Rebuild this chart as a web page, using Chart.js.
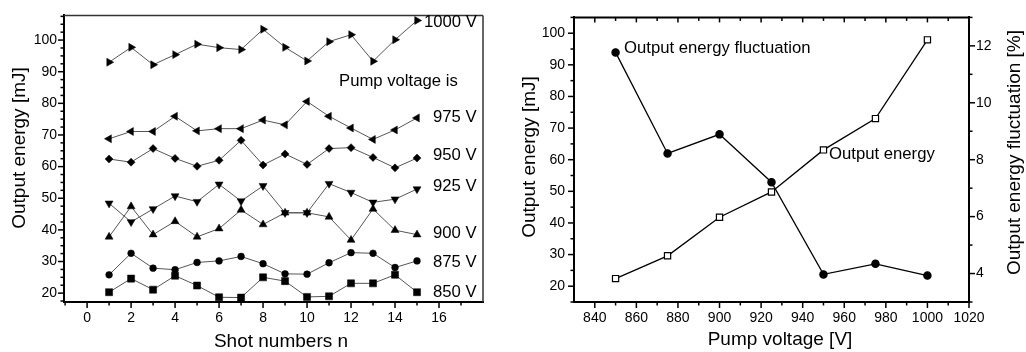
<!DOCTYPE html>
<html>
<head>
<meta charset="utf-8">
<script src="https://cdn.jsdelivr.net/npm/chart.js@4/dist/chart.umd.min.js"></script>
<style>
  body { margin: 0; background: #fff; }
  #izq { position: absolute; left: 0; top: 0; }
  #der { position: absolute; left: 500px; top: 0; }
</style>
</head>
<body>
<canvas id="izq" width="500" height="352"></canvas>
<canvas id="der" width="526" height="352"></canvas>
<script>
// datos del panel izquierdo: energia por disparo
const disparos = [1, 2, 3, 4, 5, 6, 7, 8, 9, 10, 11, 12, 13, 14, 15];
const v1000 = [93.0, 97.7, 92.2, 95.4, 98.7, 97.6, 97.0, 103.4, 97.7, 93.4, 99.5, 101.7, 93.3, 100.1, 106.2];
const v975 = [68.8, 71.1, 71.1, 75.9, 71.3, 72.0, 72.0, 74.7, 73.2, 80.6, 75.9, 72.2, 68.6, 71.6, 75.4];
const v950 = [62.4, 61.4, 65.7, 62.6, 60.1, 62.0, 68.3, 60.5, 64.0, 60.7, 65.7, 66.0, 62.9, 59.6, 62.7];
const v925 = [48.4, 42.5, 46.6, 50.7, 48.9, 54.4, 49.1, 53.9, 45.4, 45.4, 54.6, 51.8, 48.7, 49.7, 52.9];
const v900 = [37.8, 47.4, 38.5, 42.7, 37.8, 40.4, 46.3, 41.7, 45.4, 45.4, 44.1, 36.8, 46.6, 39.9, 38.5];
const v875 = [25.8, 32.6, 27.9, 27.4, 29.7, 30.2, 31.6, 29.3, 26.1, 26.0, 29.6, 32.8, 32.6, 28.1, 30.2];
const v850 = [20.3, 24.6, 21.1, 25.5, 22.4, 18.7, 18.6, 25.0, 23.8, 18.8, 19.0, 23.1, 23.1, 25.8, 20.3];
const etiquetasVoltaje = ['1000 V', '975 V', '950 V', '925 V', '900 V', '875 V', '850 V'];

// datos del panel derecho
const voltajes = [850, 875, 900, 925, 950, 975, 1000];
const energiaSalida = [22.4, 29.6, 41.8, 49.8, 63.1, 73.0, 97.9];
const fluctuacion = [11.77, 8.22, 8.89, 7.21, 3.97, 4.34, 3.93];

const ticksX1 = [0, 2, 4, 6, 8, 10, 12, 14, 16];
const ticksY1 = [20, 30, 40, 50, 60, 70, 80, 90, 100];
const ticksX2 = [840, 860, 880, 900, 920, 940, 960, 980, 1000, 1020];
const ticksY2 = [20, 30, 40, 50, 60, 70, 80, 90, 100];
const ticksY3 = [4, 6, 8, 10, 12];

const FUENTE = '"Liberation Sans", Arial, sans-serif';

function rango(a, b, paso) {
  var r = [];
  for (let v = a; v <= b + 1e-9; v += paso) r.push(Math.round(v * 1000) / 1000);
  return r;
}

function serie(xs, ys) {
  return xs.map((x, i) => ({x: x, y: ys[i]}));
}

function fijarTicks(lista) {
  return (s) => { s.ticks = lista.map(v => ({value: v})); };
}

function marcasTexto(pad) {
  return {color: '#000', font: {family: FUENTE, size: 14}, padding: pad,
    callback: (v) => String(v)};
}

function ejeBase(extra) {
  return Object.assign({
    type: 'linear',
    grid: {display: false, drawTicks: false},
    border: {display: true, color: '#000', width: 2},
    ticks: marcasTexto(8)
  }, extra);
}

// marcas mayores y menores dibujadas a mano
const marcas = {
  id: 'marcas',
  afterDraw(chart, args, opts) {
    const ctx = chart.ctx, a = chart.chartArea;
    ctx.save();
    ctx.strokeStyle = '#000';
    ctx.lineWidth = 1.5;
    opts.lista.forEach(m => {
      const s = chart.scales[m.eje];
      m.valores.forEach(v => {
        const p = s.getPixelForValue(v);
        const l = m.largo;
        ctx.beginPath();
        if (m.lado === 'bottom') { ctx.moveTo(p, a.bottom); ctx.lineTo(p, a.bottom + l); }
        if (m.lado === 'top') { ctx.moveTo(p, a.top); ctx.lineTo(p, a.top + l); }
        if (m.lado === 'left') { ctx.moveTo(a.left, p); ctx.lineTo(a.left - l, p); }
        if (m.lado === 'right') { ctx.moveTo(a.right, p); ctx.lineTo(a.right + l, p); }
        ctx.stroke();
      });
    });
    // lineas de cierre
    opts.cierre.forEach(c => {
      ctx.lineWidth = c.ancho;
      ctx.strokeStyle = c.color;
      ctx.beginPath();
      if (c.lado === 'top') { ctx.moveTo(a.left, a.top); ctx.lineTo(a.right, a.top); }
      if (c.lado === 'right') { ctx.moveTo(a.right, a.top); ctx.lineTo(a.right, a.bottom); }
      ctx.stroke();
    });
    ctx.restore();
  }
};

const textos = {
  id: 'textos',
  afterDraw(chart, args, opts) {
    const ctx = chart.ctx;
    ctx.save();
    ctx.fillStyle = '#000';
    opts.lista.forEach(t => {
      ctx.save();
      ctx.font = t.tam + 'px ' + FUENTE;
      ctx.textAlign = t.alin || 'left';
      ctx.textBaseline = 'alphabetic';
      ctx.translate(t.x, t.y);
      if (t.rot) ctx.rotate(t.rot);
      ctx.fillText(t.texto, 0, 0);
      ctx.restore();
    });
    ctx.restore();
  }
};

Chart.register(marcas, textos);

function dsIzq(ys, estilo, rot, radio) {
  return {
    data: serie(disparos, ys),
    showLine: true,
    borderColor: '#555',
    borderWidth: 1,
    pointStyle: estilo,
    rotation: rot,
    pointRadius: radio,
    pointBackgroundColor: '#000',
    pointBorderColor: '#000',
    pointBorderWidth: 0.5
  };
}

new Chart(document.getElementById('izq'), {
  type: 'scatter',
  data: {
    datasets: [
      dsIzq(v1000, 'triangle', 90, 4.6),
      dsIzq(v975, 'triangle', -90, 4.6),
      dsIzq(v950, 'rectRot', 0, 4),
      dsIzq(v925, 'triangle', 180, 4.6),
      dsIzq(v900, 'triangle', 0, 4.6),
      dsIzq(v875, 'circle', 0, 3.4),
      dsIzq(v850, 'rect', 0, 5)
    ]
  },
  options: {
    responsive: false,
    animation: false,
    layout: {padding: {top: 11, right: 17, left: 0, bottom: 0}},
    scales: {
      x: ejeBase({min: -1.05, max: 18, afterBuildTicks: fijarTicks(ticksX1),
        afterFit: (s) => { s.height = 50; }}),
      y: ejeBase({min: 17.2, max: 107.8, afterBuildTicks: fijarTicks(ticksY1),
        ticks: marcasTexto(7),
        afterFit: (s) => { s.width = 64; }})
    },
    plugins: {
      legend: {display: false},
      tooltip: {enabled: false},
      marcas: {
        lista: [
          {eje: 'x', lado: 'bottom', valores: ticksX1, largo: 6},
          {eje: 'x', lado: 'bottom', valores: rango(-1, 17, 2), largo: 3.5},
          {eje: 'y', lado: 'left', valores: ticksY1, largo: 6},
          {eje: 'y', lado: 'left', valores: rango(17.5, 107.5, 2.5).filter(v => v % 10 !== 0), largo: 3.5}
        ],
        cierre: [
          {lado: 'top', ancho: 1.5, color: '#333'},
          {lado: 'right', ancho: 1.5, color: '#333'}
        ]
      },
      textos: {
        lista: [
          {texto: etiquetasVoltaje[0], x: 424, y: 26.7, tam: 16.7},
          {texto: 'Pump voltage is', x: 339, y: 86, tam: 16.7},
          {texto: etiquetasVoltaje[1], x: 433, y: 121.7, tam: 16.7},
          {texto: etiquetasVoltaje[2], x: 433, y: 160, tam: 16.7},
          {texto: etiquetasVoltaje[3], x: 433, y: 190.7, tam: 16.7},
          {texto: etiquetasVoltaje[4], x: 433, y: 238.3, tam: 16.7},
          {texto: etiquetasVoltaje[5], x: 433, y: 266.7, tam: 16.7},
          {texto: etiquetasVoltaje[6], x: 433, y: 296.7, tam: 16.7},
          {texto: 'Shot numbers n', x: 281, y: 346.7, tam: 19, alin: 'center'},
          {texto: 'Output energy [mJ]', x: 25, y: 148, tam: 19, alin: 'center', rot: -Math.PI / 2}
        ]
      }
    }
  }
});

new Chart(document.getElementById('der'), {
  type: 'scatter',
  data: {
    datasets: [
      {
        data: serie(voltajes, fluctuacion),
        yAxisID: 'y1',
        showLine: true,
        borderColor: '#000',
        borderWidth: 1.3,
        pointStyle: 'circle',
        pointRadius: 3.6,
        pointBackgroundColor: '#000',
        pointBorderColor: '#000'
      },
      {
        data: serie(voltajes, energiaSalida),
        yAxisID: 'y',
        showLine: true,
        borderColor: '#000',
        borderWidth: 1.3,
        pointStyle: 'rect',
        pointRadius: 4.4,
        pointBackgroundColor: '#fff',
        pointBorderColor: '#000',
        pointBorderWidth: 1.2
      }
    ]
  },
  options: {
    responsive: false,
    animation: false,
    layout: {padding: {top: 14, right: 0, left: 0, bottom: 0}},
    scales: {
      x: ejeBase({min: 830, max: 1020, afterBuildTicks: fijarTicks(ticksX2),
        afterFit: (s) => { s.height = 50; }}),
      y: ejeBase({min: 15, max: 105, position: 'left', afterBuildTicks: fijarTicks(ticksY2),
        ticks: marcasTexto(9),
        afterFit: (s) => { s.width = 74; }}),
      y1: ejeBase({min: 3, max: 13, position: 'right', afterBuildTicks: fijarTicks(ticksY3),
        ticks: marcasTexto(7),
        afterFit: (s) => { s.width = 57; }})
    },
    plugins: {
      legend: {display: false},
      tooltip: {enabled: false},
      marcas: {
        lista: [
          {eje: 'x', lado: 'bottom', valores: ticksX2, largo: 6},
          {eje: 'x', lado: 'bottom', valores: rango(850, 1010, 20), largo: 3.5},
          {eje: 'x', lado: 'top', valores: ticksX2, largo: 5},
          {eje: 'x', lado: 'top', valores: rango(850, 1010, 20), largo: 3.5},
          {eje: 'y', lado: 'left', valores: ticksY2, largo: 6},
          {eje: 'y', lado: 'left', valores: rango(15, 105, 10), largo: 3.5},
          {eje: 'y1', lado: 'right', valores: ticksY3, largo: 6},
          {eje: 'y1', lado: 'right', valores: rango(3, 13, 2), largo: 3.5}
        ],
        cierre: [
          {lado: 'top', ancho: 2, color: '#000'}
        ]
      },
      textos: {
        lista: [
          {texto: 'Output energy fluctuation', x: 124, y: 53.3, tam: 16.7},
          {texto: 'Output energy', x: 329, y: 159.3, tam: 16.7},
          {texto: 'Pump voltage [V]', x: 280, y: 345, tam: 19, alin: 'center'},
          {texto: 'Output energy [mJ]', x: 35, y: 157, tam: 19, alin: 'center', rot: -Math.PI / 2},
          {texto: 'Output energy fluctuation [%]', x: 520, y: 152.5, tam: 19, alin: 'center', rot: -Math.PI / 2}
        ]
      }
    }
  }
});
</script>
</body>
</html>
